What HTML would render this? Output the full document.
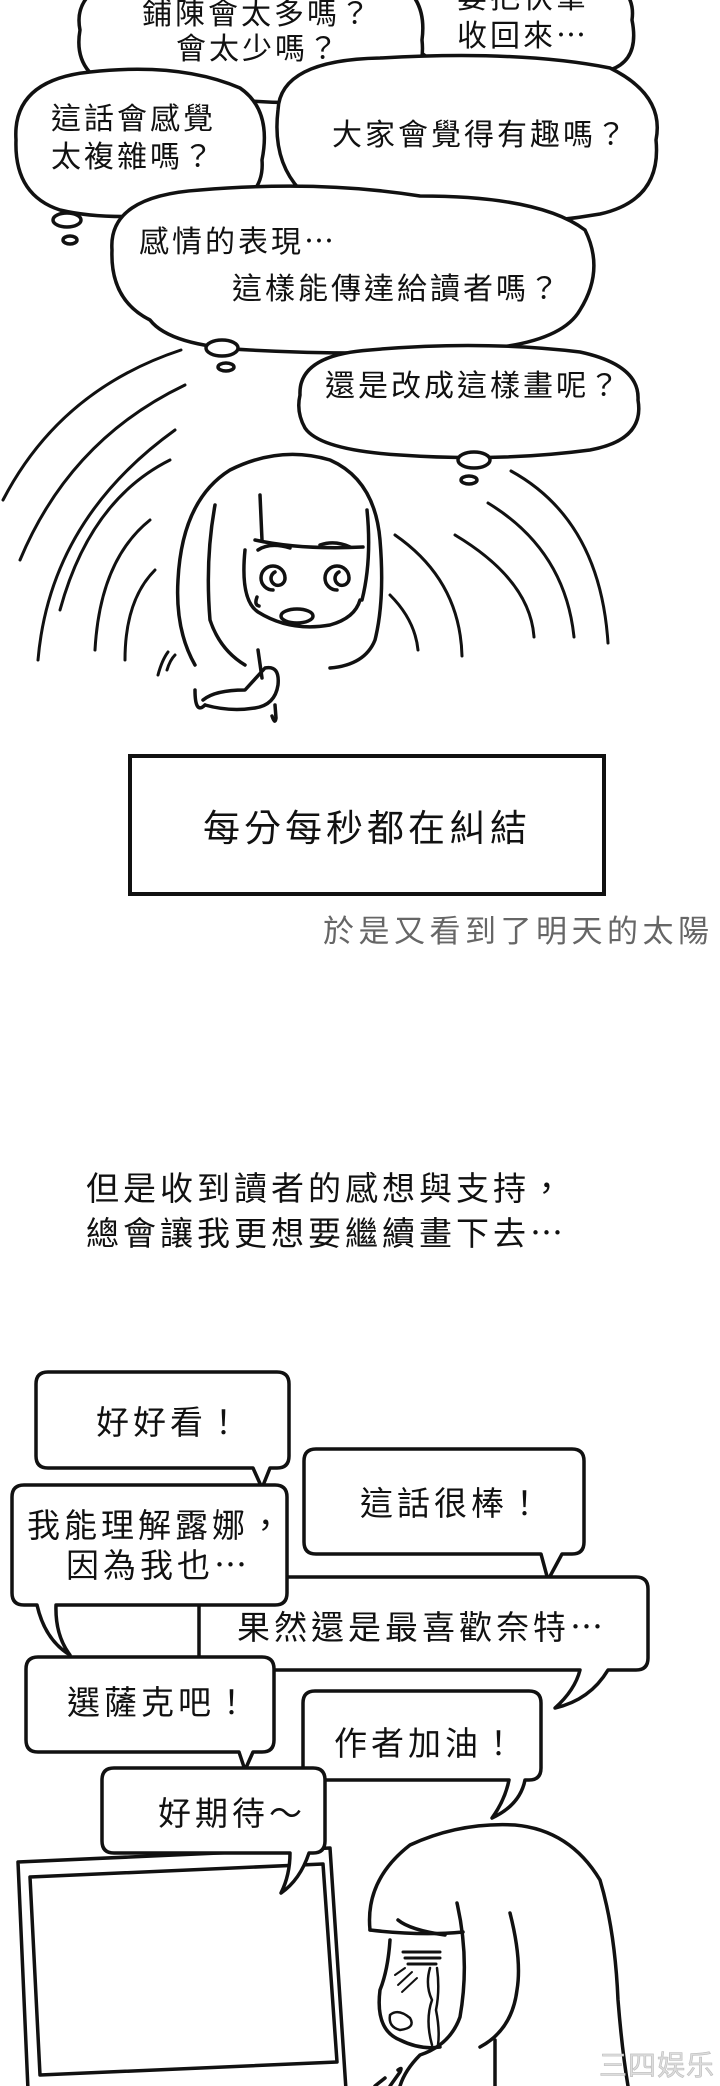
<!DOCTYPE html>
<html><head><meta charset="utf-8">
<style>
html,body{margin:0;padding:0;background:#fff;}
svg{display:block;}
text{font-family:"Liberation Sans","Noto Sans CJK TC","Noto Sans CJK SC",sans-serif;fill:#111;}
.e{font-family:"Noto Sans CJK TC","Noto Sans CJK SC",sans-serif;}
</style></head>
<body>
<svg width="720" height="2086" viewBox="0 0 720 2086" xmlns="http://www.w3.org/2000/svg">
<rect width="720" height="2086" fill="#fff"/>
<g fill="#fff" stroke="#111" stroke-width="3.5" stroke-linejoin="round" stroke-linecap="round">
  <path d="M412 10 Q420 -30 520 -35 Q640 -35 632 20 Q640 60 610 70 Q560 82 500 76 Q430 70 415 45 Q405 25 412 10Z"/>
  <circle cx="408" cy="4" r="4"/>
  <path d="M80 30 Q70 -20 160 -30 L360 -30 Q430 -20 422 40 Q428 95 360 98 Q300 106 240 100 Q170 108 120 90 Q72 75 80 30Z"/>
  <path d="M16 140 Q12 80 90 72 Q180 62 240 88 Q272 110 262 160 Q266 210 190 212 Q110 222 60 210 Q14 195 16 140Z"/>
  <ellipse cx="67" cy="220" rx="14" ry="7"/>
  <ellipse cx="70" cy="240" rx="7" ry="4"/>
  <path d="M278 110 Q280 60 380 58 Q520 50 610 68 Q665 95 656 140 Q662 200 600 214 Q520 228 430 222 Q330 222 300 190 Q272 160 278 110Z"/>
  <ellipse cx="522" cy="222" rx="15" ry="8"/>
  <path d="M112 250 Q108 196 200 190 Q320 180 420 196 Q540 196 585 230 Q605 270 580 310 Q560 345 470 350 Q360 356 250 350 Q170 346 150 320 Q110 300 112 250Z"/>
  <ellipse cx="222" cy="348" rx="16" ry="8"/>
  <ellipse cx="226" cy="367" rx="8" ry="4"/>
  <path d="M300 395 Q298 355 370 350 Q480 340 580 352 Q640 365 638 400 Q645 440 590 450 Q500 462 400 455 Q320 450 305 428 Q296 412 300 395Z"/>
  <ellipse cx="474" cy="460" rx="16" ry="8"/>
  <ellipse cx="469" cy="480" rx="8" ry="4"/>
</g>
<g font-size="30" letter-spacing="3">
  <text x="142" y="24">鋪陳會太多嗎？</text>
  <text x="176" y="59">會太少嗎？</text>
  <text x="457" y="8">要把伏筆</text>
  <text x="457" y="46">收回來<tspan class="e">…</tspan></text>
  <text x="51" y="129">這話會感覺</text>
  <text x="51" y="167">太複雜嗎？</text>
  <text x="332" y="145">大家會覺得有趣嗎？</text>
  <text x="139" y="252">感情的表現<tspan class="e">…</tspan></text>
  <text x="232" y="299">這樣能傳達給讀者嗎？</text>
  <text x="325" y="396">還是改成這樣畫呢？</text>
</g>
<g fill="none" stroke="#111" stroke-width="3" stroke-linecap="round">
  <path d="M3 500 Q60 390 181 350"/>
  <path d="M20 560 Q70 440 185 385"/>
  <path d="M38 660 Q50 520 175 430"/>
  <path d="M60 610 Q90 500 170 460"/>
  <path d="M95 650 Q100 560 150 520"/>
  <path d="M125 660 Q125 600 155 570"/>
  <path d="M511 471 Q600 520 608 643"/>
  <path d="M488 503 Q565 550 574 637"/>
  <path d="M455 535 Q530 580 534 637"/>
  <path d="M395 535 Q460 580 462 656"/>
  <path d="M390 595 Q415 620 418 650"/>
  <path d="M158 675 Q162 660 168 652"/>
  <path d="M167 670 Q170 660 175 655"/>
</g>
<g fill="none" stroke="#111" stroke-width="3.5" stroke-linecap="round" stroke-linejoin="round">
  <path d="M195 665 Q175 630 178 580 Q182 500 230 470 Q280 445 330 460 Q375 480 380 540 Q385 600 375 640 Q365 665 330 668"/>
  <path d="M215 505 Q205 560 210 620 Q220 650 245 665"/>
  <path d="M260 495 L262 540 M255 540 Q300 550 363 547 M367 510 Q372 560 362 600"/>
  <path d="M245 550 Q240 600 258 612 Q290 632 330 625 Q355 618 360 600"/>
  <path d="M258 550 Q270 542 290 548 M320 545 Q335 540 350 547"/>
  <path d="M273 590 A12 12 0 1 1 285 578 A7 7 0 1 1 275 572"/>
  <path d="M337 590 A12 12 0 1 1 349 578 A7 7 0 1 1 339 572"/>
  <ellipse cx="297" cy="616" rx="16" ry="7"/>
  <path d="M257 597 Q254 605 259 606"/>
  <path d="M203 700 Q215 690 245 690 L265 668 Q280 665 278 685 Q275 705 255 708 Q230 712 205 705"/>
  <path d="M258 650 L262 678 M275 705 L276 718 Q275 725 272 716"/>
  <path d="M195 690 Q195 715 205 705"/>
</g>
<rect x="130" y="756" width="474" height="138" fill="#fff" stroke="#111" stroke-width="4"/>
<text x="367" y="841" font-size="37" letter-spacing="4" text-anchor="middle">每分每秒都在糾結</text>
<text x="323" y="942" font-size="31" letter-spacing="4.5" style="fill:#666">於是又看到了明天的太陽</text>
<text x="86" y="1200" font-size="33" letter-spacing="4">但是收到讀者的感想與支持，</text>
<text x="86" y="1245" font-size="33" letter-spacing="4">總會讓我更想要繼續畫下去<tspan class="e">…</tspan></text>
<g fill="#fff" stroke="#111" stroke-width="3.5" stroke-linejoin="round">
  <path d="M48 1372 H277 Q289 1372 289 1384 V1456 Q289 1468 277 1468 H270 L262 1488 L253 1468 H48 Q36 1468 36 1456 V1384 Q36 1372 48 1372Z"/>
  <path d="M316 1449 H572 Q584 1449 584 1461 V1542 Q584 1554 572 1554 H562 L548 1580 L541 1554 H316 Q304 1554 304 1542 V1461 Q304 1449 316 1449Z"/>
  <path d="M211 1577 H636 Q648 1577 648 1589 V1658 Q648 1670 636 1670 H608 Q590 1700 555 1708 Q575 1690 580 1670 H211 Q199 1670 199 1658 V1589 Q199 1577 211 1577Z"/>
  <path d="M38 1657 H262 Q274 1657 274 1669 V1740 Q274 1752 262 1752 H253 L245 1770 L239 1752 H38 Q26 1752 26 1740 V1669 Q26 1657 38 1657Z"/>
  <path d="M24 1485 H275 Q287 1485 287 1497 V1593 Q287 1605 275 1605 H56 Q55 1635 70 1655 Q45 1640 37 1605 H24 Q12 1605 12 1593 V1497 Q12 1485 24 1485Z"/>
  <path d="M315 1691 H529 Q541 1691 541 1703 V1768 Q541 1780 529 1780 H525 Q520 1805 492 1818 Q505 1800 509 1780 H315 Q303 1780 303 1768 V1703 Q303 1691 315 1691Z"/>
  <path d="M18 1862 L330 1848 L346 2090 L28 2090Z"/>
  <path d="M30 1877 L323 1864 L337 2062 L40 2075Z"/>
  <path d="M114 1768 H313 Q325 1768 325 1780 V1841 Q325 1853 313 1853 H309 Q300 1880 281 1893 Q290 1875 290 1853 H114 Q102 1853 102 1841 V1780 Q102 1768 114 1768Z"/>
</g>
<g font-size="33" letter-spacing="4">
  <text x="96" y="1434">好好看！</text>
  <text x="360" y="1515">這話很棒！</text>
  <text x="27" y="1537">我能理解露娜，</text>
  <text x="66" y="1577">因為我也<tspan class="e">…</tspan></text>
  <text x="237" y="1639">果然還是最喜歡奈特<tspan class="e">…</tspan></text>
  <text x="67" y="1714">選薩克吧！</text>
  <text x="334" y="1755">作者加油！</text>
  <text x="158" y="1825">好期待～</text>
</g>
<g fill="none" stroke="#111" stroke-width="3.5" stroke-linecap="round" stroke-linejoin="round">
  <path d="M370 1930 Q365 1880 410 1845 Q460 1822 515 1825 Q570 1830 600 1880 Q615 1930 618 2000 Q622 2050 628 2086"/>
  <path d="M370 1930 Q420 1936 463 1932"/>
  <path d="M457 1903 Q470 1960 460 2017 Q450 2045 420 2055 Q405 2070 400 2086"/>
  <path d="M510 1913 Q522 1960 517 1990 Q512 2030 480 2047 M495 2040 L495 2086"/>
  <path d="M390 1940 Q388 1970 380 1990 Q375 2030 400 2040 Q420 2050 440 2047"/>
  <path d="M398 1920 Q410 1930 445 1935"/>
  <path d="M403 1952 H440 M405 1958 H440 M408 1964 H436" stroke-width="3"/>
  <path d="M430 1968 Q425 1985 432 2000 Q425 2020 432 2045 M437 1968 Q440 1990 436 2010 Q440 2030 438 2045" stroke-width="2.5"/>
  <path d="M390 2015 Q398 2008 410 2018 Q416 2028 400 2030 Q388 2027 390 2015Z" stroke-width="2.5"/>
  <path d="M395 1975 L405 1968 M398 1985 L412 1972 M402 1992 L417 1978" stroke-width="2"/>
  <path d="M390 2086 L400 2072 Q403 2066 398 2070 M375 2086 L385 2078"/>
</g>
<text x="599" y="2075" font-size="28" letter-spacing="1" style="fill:#ddd;stroke:#bbb;stroke-width:0.6">三四娱乐</text>
</svg>
</body></html>
